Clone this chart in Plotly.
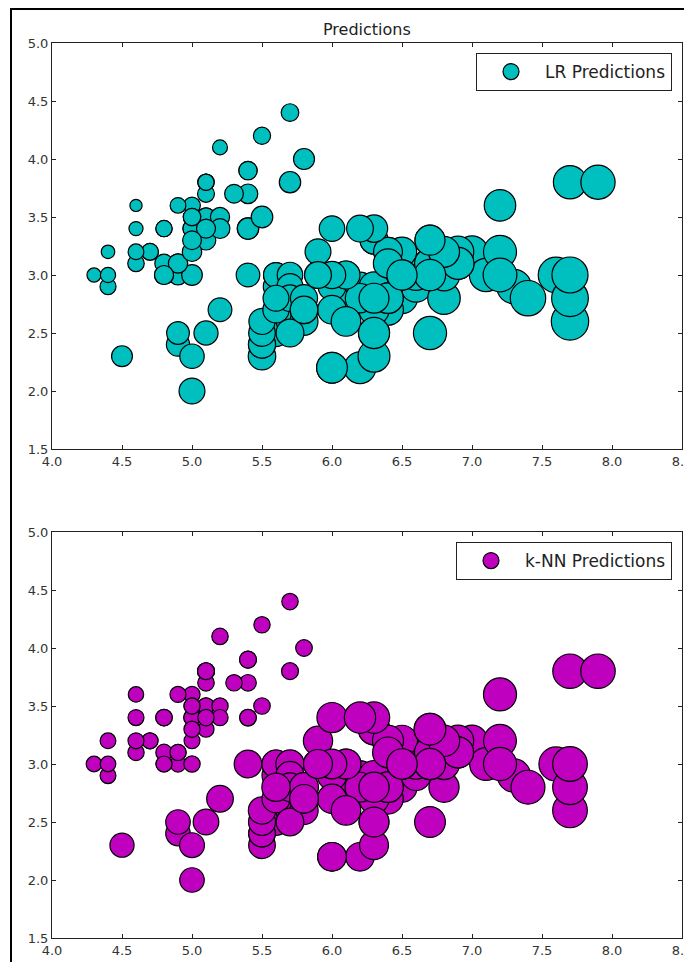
import numpy as np
import plotly.graph_objects as go

# Iris sepal length / sepal width
sepal_length = [
    5.1, 4.9, 4.7, 4.6, 5.0, 5.4, 4.6, 5.0, 4.4, 4.9, 5.4, 4.8, 4.8, 4.3, 5.8, 5.7, 5.4, 5.1, 5.7, 5.1,
    5.4, 5.1, 4.6, 5.1, 4.8, 5.0, 5.0, 5.2, 5.2, 4.7, 4.8, 5.4, 5.2, 5.5, 4.9, 5.0, 5.5, 4.9, 4.4, 5.1,
    5.0, 4.5, 4.4, 5.0, 5.1, 4.8, 5.1, 4.6, 5.3, 5.0,
    7.0, 6.4, 6.9, 5.5, 6.5, 5.7, 6.3, 4.9, 6.6, 5.2, 5.0, 5.9, 6.0, 6.1, 5.6, 6.7, 5.6, 5.8, 6.2, 5.6,
    5.9, 6.1, 6.3, 6.1, 6.4, 6.6, 6.8, 6.7, 6.0, 5.7, 5.5, 5.5, 5.8, 6.0, 5.4, 6.0, 6.7, 6.3, 5.6, 5.5,
    5.5, 6.1, 5.8, 5.0, 5.6, 5.7, 5.7, 6.2, 5.1, 5.7,
    6.3, 5.8, 7.1, 6.3, 6.5, 7.6, 4.9, 7.3, 6.7, 7.2, 6.5, 6.4, 6.8, 5.7, 5.8, 6.4, 6.5, 7.7, 7.7, 6.0,
    6.9, 5.6, 7.7, 6.3, 6.7, 7.2, 6.2, 6.1, 6.4, 7.2, 7.4, 7.9, 6.4, 6.3, 6.1, 7.7, 6.3, 6.4, 6.0, 6.9,
    6.7, 6.9, 5.8, 6.8, 6.7, 6.7, 6.3, 6.5, 6.2, 5.9,
]
sepal_width = [
    3.5, 3.0, 3.2, 3.1, 3.6, 3.9, 3.4, 3.4, 2.9, 3.1, 3.7, 3.4, 3.0, 3.0, 4.0, 4.4, 3.9, 3.5, 3.8, 3.8,
    3.4, 3.7, 3.6, 3.3, 3.4, 3.0, 3.4, 3.5, 3.4, 3.2, 3.1, 3.4, 4.1, 4.2, 3.1, 3.2, 3.5, 3.6, 3.0, 3.4,
    3.5, 2.3, 3.2, 3.5, 3.8, 3.0, 3.8, 3.2, 3.7, 3.3,
    3.2, 3.2, 3.1, 2.3, 2.8, 2.8, 3.3, 2.4, 2.9, 2.7, 2.0, 3.0, 2.2, 2.9, 2.9, 3.1, 3.0, 2.7, 2.2, 2.5,
    3.2, 2.8, 2.5, 2.8, 2.9, 3.0, 2.8, 3.0, 2.9, 2.6, 2.4, 2.4, 2.7, 2.7, 3.0, 3.4, 3.1, 2.3, 3.0, 2.5,
    2.6, 3.0, 2.6, 2.3, 2.7, 3.0, 2.9, 2.9, 2.5, 2.8,
    3.3, 2.7, 3.0, 2.9, 3.0, 3.0, 2.5, 2.9, 2.5, 3.6, 3.2, 2.7, 3.0, 2.5, 2.8, 3.2, 3.0, 3.8, 2.6, 2.2,
    3.2, 2.8, 2.8, 2.7, 3.3, 3.2, 2.8, 3.0, 2.8, 3.0, 2.8, 3.8, 2.8, 2.8, 2.6, 3.0, 3.4, 3.1, 3.0, 3.1,
    3.1, 3.1, 2.7, 3.2, 3.3, 3.0, 2.5, 3.0, 3.4, 3.0,
]

# Predicted values (marker area proportional to prediction)
lr_predictions = [
    1.85, 2.16, 1.54, 1.49, 1.53, 1.84, 1.09, 1.80, 1.41, 2.03, 2.11, 1.45, 1.98, 1.09, 2.42, 1.71, 1.84, 1.85, 2.51, 1.44,
    2.51, 1.58, 0.82, 2.11, 1.45, 2.34, 1.80, 2.02, 2.16, 1.54, 1.85, 2.51, 1.22, 1.62, 2.03, 2.07, 2.56, 1.36, 1.27, 1.98,
    1.67, 2.39, 1.00, 1.67, 1.44, 1.98, 1.44, 1.36, 1.93, 1.94,
    5.62, 4.56, 5.58, 4.16, 5.27, 3.85, 4.24, 2.96, 5.31, 3.09, 3.68, 3.94, 5.18, 4.42, 3.54, 5.22, 3.40, 4.16, 5.54, 4.07,
    3.67, 4.56, 5.31, 4.56, 4.96, 5.18, 5.80, 5.36, 4.25, 4.12, 4.03, 4.03, 4.16, 4.52, 3.05, 3.58, 5.22, 5.58, 3.40, 3.89,
    3.76, 4.29, 4.29, 3.27, 3.80, 3.58, 3.71, 4.60, 3.18, 3.85,
    4.24, 4.16, 6.07, 4.78, 5.00, 6.95, 2.83, 6.56, 6.03, 5.44, 4.73, 5.23, 5.53, 4.25, 4.03, 4.56, 5.00, 6.06, 7.67, 5.18,
    5.44, 3.67, 7.40, 5.05, 4.95, 5.98, 4.74, 4.29, 5.09, 6.24, 6.87, 6.42, 5.09, 4.91, 4.83, 7.13, 4.11, 4.69, 4.11, 5.58,
    5.22, 5.58, 4.16, 5.27, 4.95, 5.36, 5.31, 5.00, 3.93, 3.94,
]
knn_predictions = [
    1.48, 1.42, 1.40, 1.46, 1.44, 1.56, 1.40, 1.48, 1.38, 1.44, 1.52, 1.50, 1.40, 1.34, 1.52, 1.48, 1.56, 1.48, 1.58, 1.56,
    1.52, 1.50, 1.30, 1.42, 1.50, 1.46, 1.48, 1.46, 1.44, 1.40, 1.48, 1.52, 1.48, 1.46, 1.44, 1.38, 1.50, 1.42, 1.34, 1.48,
    1.42, 3.20, 1.36, 1.42, 1.56, 1.40, 1.56, 1.40, 1.48, 1.44,
    5.40, 5.30, 5.30, 3.90, 5.00, 4.50, 5.40, 3.30, 4.90, 3.90, 3.30, 4.60, 4.50, 4.80, 4.30, 5.30, 4.30, 4.50, 4.50, 4.00,
    4.70, 4.90, 4.90, 4.90, 5.00, 5.10, 5.00, 5.30, 4.70, 4.30, 3.90, 3.90, 4.50, 4.70, 4.20, 5.00, 5.30, 4.60, 4.30, 4.00,
    4.10, 4.90, 4.40, 3.40, 4.30, 4.40, 4.40, 4.90, 3.60, 4.50,
    5.40, 4.50, 5.90, 5.00, 5.10, 6.40, 3.30, 6.10, 5.20, 6.00, 5.30, 5.10, 5.30, 4.20, 4.60, 5.30, 5.10, 6.50, 6.60, 4.50,
    5.40, 4.40, 6.60, 5.00, 5.50, 5.90, 4.90, 4.90, 5.10, 6.00, 6.30, 6.50, 5.10, 5.00, 4.80, 6.60, 5.40, 5.20, 4.80, 5.30,
    5.30, 5.30, 4.50, 5.40, 5.50, 5.30, 4.90, 5.10, 5.40, 4.60,
]

x_ticks = [4.0, 4.5, 5.0, 5.5, 6.0, 6.5, 7.0, 7.5, 8.0, 8.5]
y_ticks = [1.5, 2.0, 2.5, 3.0, 3.5, 4.0, 4.5, 5.0]

# The page body has an 8px margin; the figure starts 8px in and ends at the window edges.
OFF = 8
W, H = 692 - OFF, 970 - 2 * OFF
SCALE = 13.5  # px diameter per sqrt(unit)


def diam(vals):
    return [SCALE * np.sqrt(v) for v in vals]


def px(xp):
    return (xp - OFF) / W


def py(yp):
    return 1 - (yp - OFF) / H


fig = go.Figure()
fig.add_trace(go.Scatter(
    x=sepal_length, y=sepal_width, mode="markers", name="LR Predictions",
    marker=dict(size=diam(lr_predictions), color="#00BFBF", line=dict(color="black", width=1.2), opacity=1),
    xaxis="x", yaxis="y", legend="legend",
))
fig.add_trace(go.Scatter(
    x=sepal_length, y=sepal_width, mode="markers", name="k-NN Predictions",
    marker=dict(size=diam(knn_predictions), color="#BF00BF", line=dict(color="black", width=1.2), opacity=1),
    xaxis="x2", yaxis="y2", legend="legend2",
))

xdom = [px(52), px(682)]
top_dom = [py(449), py(43)]
bot_dom = [py(938), py(532)]

axis_common = dict(
    showgrid=False, zeroline=False, showline=True, linecolor="#222", linewidth=1,
    mirror="allticks", ticks="inside", ticklen=4, tickcolor="#222", tickwidth=1,
    tickfont=dict(family="DejaVu Sans", size=13, color="#333"), automargin=False,
    ticklabeloverflow="allow",
)

legend_common = dict(
    xanchor="right", yanchor="top", bgcolor="white", bordercolor="#222", borderwidth=1,
    font=dict(family="DejaVu Sans", size=17, color="#222"), itemsizing="trace", itemwidth=58,
)

fig.update_layout(
    width=W, height=H,
    margin=dict(l=0, r=0, t=0, b=0),
    paper_bgcolor="white", plot_bgcolor="white",
    showlegend=True,
    xaxis=dict(domain=xdom, range=[4.0, 8.5], tickvals=x_ticks, ticktext=[f"{v:.1f}" for v in x_ticks],
               anchor="y", **axis_common),
    yaxis=dict(domain=top_dom, range=[1.5, 5.0], tickvals=y_ticks, ticktext=[f"{v:.1f}" for v in y_ticks],
               anchor="x", **axis_common),
    xaxis2=dict(domain=xdom, range=[4.0, 8.5], tickvals=x_ticks, ticktext=[f"{v:.1f}" for v in x_ticks],
                anchor="y2", **axis_common),
    yaxis2=dict(domain=bot_dom, range=[1.5, 5.0], tickvals=y_ticks, ticktext=[f"{v:.1f}" for v in y_ticks],
                anchor="x2", **axis_common),
    legend=dict(x=px(672), y=py(53), **legend_common),
    legend2=dict(x=px(672), y=py(542), **legend_common),
    annotations=[dict(text="Predictions", x=(xdom[0] + xdom[1]) / 2, y=py(30), xref="paper", yref="paper",
                      showarrow=False, font=dict(family="DejaVu Sans", size=16, color="#222"),
                      xanchor="center", yanchor="middle")],
    shapes=[dict(type="rect", xref="paper", yref="paper", x0=px(11), x1=px(689), y0=-0.02, y1=py(9),
                 line=dict(color="black", width=2), fillcolor="rgba(0,0,0,0)", layer="above")],
)

fig.write_html("out.html")
